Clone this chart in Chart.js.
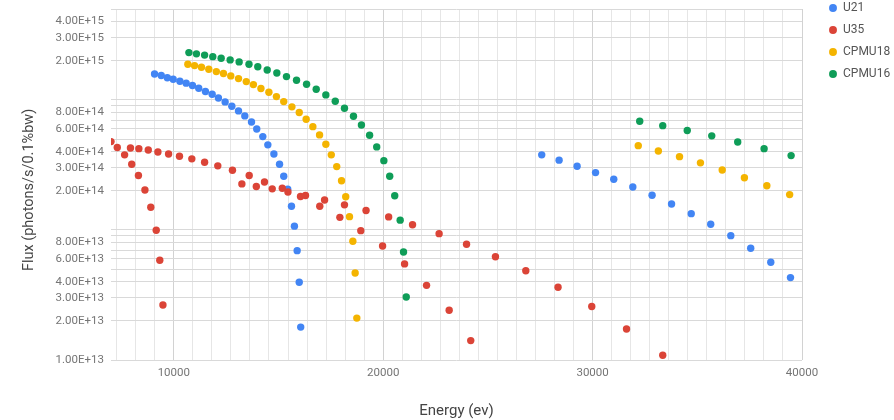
<!DOCTYPE html>
<html>
<head>
<meta charset="utf-8">
<script src="https://cdn.jsdelivr.net/npm/chart.js@4.4.1/dist/chart.umd.min.js"></script>
<style>
  body { margin: 0; background: #fff; }
  #wrap { width: 894px; height: 420px; }
</style>
</head>
<body>
<div id="wrap"><canvas id="chart"></canvas></div>
<script>
const seriesNames = ['U21', 'U35', 'CPMU18', 'CPMU16'];
const seriesColors = ['#4285f4', '#db4437', '#f4b400', '#0f9d58'];

const u21Energy = [9080, 9400, 9690, 9970, 10290, 10590, 10890, 11190, 11510, 11830,
  12130, 12450, 12770, 13090, 13390, 13710, 13960, 14250, 14490, 14780,
  15050, 15250, 15440, 15620, 15760, 15890, 15990, 16060,
  27570, 28400, 29260, 30140, 31010, 31920, 32840, 33770, 34710, 35640, 36600, 37550, 38510, 39450];
const u21Flux = [1.58e15, 1.54e15, 1.48e15, 1.44e15, 1.39e15, 1.345e15, 1.29e15, 1.23e15, 1.16e15, 1.105e15,
  1.035e15, 9.65e14, 8.94e14, 8.23e14, 7.53e14, 6.77e14, 5.98e14, 5.22e14, 4.51e14, 3.84e14,
  3.2e14, 2.59e14, 2.06e14, 1.52e14, 1.07e14, 6.93e13, 3.96e13, 1.79e13,
  3.78e14, 3.44e14, 3.09e14, 2.76e14, 2.455e14, 2.14e14, 1.85e14, 1.585e14, 1.335e14, 1.106e14, 9.04e13, 7.23e13, 5.64e13, 4.3e13];

const u35Energy = [7000, 7300, 7650, 7930, 7990, 8330, 8310, 8620, 8780, 8900,
  9160, 9240, 9330, 9480, 9750, 10270, 10860, 11470, 12100, 12800,
  13250, 13600, 13940, 14330, 14700, 15180, 15450, 16050, 16290, 16970,
  17200, 17930, 18150, 18930, 19180, 19970, 20260, 21020, 21400, 22070,
  22670, 23150, 23980, 24180, 25360, 26810, 28350, 29960, 31620, 33350];
const u35Flux = [4.78e14, 4.3e14, 3.78e14, 4.27e14, 3.2e14, 4.22e14, 2.62e14, 2.03e14, 4.12e14, 1.495e14,
  9.95e13, 3.98e14, 5.85e13, 2.65e13, 3.84e14, 3.69e14, 3.52e14, 3.32e14, 3.11e14, 2.88e14,
  2.26e14, 2.62e14, 2.16e14, 2.34e14, 2.07e14, 2.09e14, 1.96e14, 1.81e14, 1.84e14, 1.52e14,
  1.7e14, 1.25e14, 1.56e14, 9.88e13, 1.41e14, 7.53e13, 1.26e14, 5.48e13, 1.096e14, 3.75e13,
  9.37e13, 2.41e13, 7.76e13, 1.41e13, 6.23e13, 4.86e13, 3.63e13, 2.58e13, 1.73e13, 1.087e13];

const cpmu18Energy = [10670, 10990, 11320, 11670, 12030, 12370, 12720, 13090, 13460, 13800,
  14160, 14540, 14900, 15250, 15640, 15990, 16320, 16640, 16960, 17260,
  17520, 17780, 18010, 18210, 18390, 18550, 18660, 18740,
  32180, 33140, 34150, 35150, 36190, 37250, 38320, 39410];
const cpmu18Flux = [1.88e15, 1.835e15, 1.784e15, 1.722e15, 1.651e15, 1.594e15, 1.53e15, 1.458e15, 1.383e15, 1.311e15,
  1.224e15, 1.146e15, 1.06e15, 9.7e14, 8.84e14, 7.99e14, 7.1e14, 6.23e14, 5.38e14, 4.56e14,
  3.78e14, 3.07e14, 2.39e14, 1.8e14, 1.266e14, 8.19e13, 4.67e13, 2.1e13,
  4.45e14, 4.05e14, 3.66e14, 3.28e14, 2.89e14, 2.52e14, 2.19e14, 1.87e14];

const cpmu16Energy = [10720, 11080, 11470, 11860, 12260, 12690, 13120, 13590, 14010, 14460,
  14920, 15380, 15860, 16340, 16800, 17260, 17710, 18150, 18580, 18960,
  19350, 19690, 20030, 20310, 20550, 20810, 20970, 21100,
  32250, 33350, 34520, 35690, 36930, 38190, 39480];
const cpmu16Flux = [2.31e15, 2.26e15, 2.21e15, 2.15e15, 2.09e15, 2.03e15, 1.96e15, 1.88e15, 1.8e15, 1.7e15,
  1.61e15, 1.51e15, 1.418e15, 1.32e15, 1.209e15, 1.093e15, 9.77e14, 8.63e14, 7.49e14, 6.42e14,
  5.35e14, 4.35e14, 3.41e14, 2.59e14, 1.83e14, 1.19e14, 6.77e13, 3.05e13,
  6.86e14, 6.34e14, 5.81e14, 5.29e14, 4.75e14, 4.22e14, 3.73e14];

const xTickLabels = [10000, 20000, 30000, 40000];
const yTickLabels = [1e13, 2e13, 3e13, 4e13, 6e13, 8e13, 2e14, 3e14, 4e14, 6e14, 8e14, 2e15, 3e15, 4e15];

// gridlines: x every 10000/11 around the labelled ticks, y at 1..9 x 10^n
const xGrid = [];
for (let k = -3; k <= 33; k++) xGrid.push((110000 + k * 10000) / 11);
const yGrid = [];
for (let e = 13; e <= 15; e++) {
  for (let m = 1; m <= 9; m++) {
    if (m * 10 ** e <= 5e15) yGrid.push(m * 10 ** e);
  }
}
const isMajorX = v => xTickLabels.includes(Math.round(v)) && Math.abs(v - Math.round(v)) < 1e-6;

const energies = [u21Energy, u35Energy, cpmu18Energy, cpmu16Energy];
const fluxes = [u21Flux, u35Flux, cpmu18Flux, cpmu16Flux];

Chart.defaults.font.family = "Roboto, 'Noto Sans', sans-serif";
Chart.defaults.animation = false;

// move legend a bit right/up, like the original
const legendNudge = {
  id: 'legendNudge',
  afterLayout(chart) {
    const lg = chart.legend;
    lg.left += 17; lg.right += 17;
    lg.top -= 8; lg.bottom -= 8;
  }
};

const data = {
  datasets: seriesNames.map((name, i) => ({
    label: name,
    data: energies[i].map((x, j) => ({x: x, y: fluxes[i][j]})),
    backgroundColor: seriesColors[i],
    borderColor: seriesColors[i],
    borderWidth: 0,
    pointRadius: 3.7,
    pointHoverRadius: 3.7,
    order: seriesNames.length - i
  }))
};

const config = {
  type: 'scatter',
  data: data,
  plugins: [legendNudge],
  options: {
    responsive: true,
    maintainAspectRatio: false,
    events: [],
    layout: { padding: 0 },
    plugins: {
      legend: {
        position: 'right',
        align: 'start',
        labels: {
          usePointStyle: true,
          boxWidth: 8,
          boxHeight: 5.6,
          padding: 10,
          color: '#555',
          font: { size: 12 },
          sort: (a, b) => a.datasetIndex - b.datasetIndex
        }
      },
      tooltip: { enabled: false }
    },
    scales: {
      x: {
        type: 'linear',
        min: 7000,
        max: 40000,
        afterBuildTicks: s => { s.ticks = xGrid.map(v => ({value: v})); },
        afterFit: s => { s.height = 60; s.paddingRight = 92; s.paddingLeft = 0; },
        grid: {
          drawTicks: false,
          color: c => isMajorX(c.tick.value) ? '#d2d2d2' : '#e6e6e6'
        },
        border: { display: false },
        ticks: {
          autoSkip: false,
          maxRotation: 0,
          padding: 6,
          color: '#757575',
          font: { size: 11.5 },
          callback: v => isMajorX(v) ? String(Math.round(v)) : ''
        },
        title: {
          display: true,
          text: 'Energy (ev)',
          color: '#444',
          font: { size: 15 },
          padding: { top: 0, bottom: 0 }
        }
      },
      y: {
        type: 'logarithmic',
        min: 1e13,
        max: 5e15,
        afterBuildTicks: s => { s.ticks = yGrid.map(v => ({value: v})); },
        afterFit: s => { s.width = 111; s.paddingTop = 9; s.paddingBottom = 0; },
        grid: { drawTicks: false, color: '#d9d9d9' },
        border: { display: false },
        ticks: {
          autoSkip: false,
          padding: 7,
          color: '#757575',
          font: { size: 11.5 },
          callback: v => yTickLabels.includes(v) ? v.toExponential(2).toUpperCase() : ''
        },
        title: {
          display: true,
          text: 'Flux (photons/s/0.1%bw)   ',
          color: '#444',
          font: { size: 14.5 },
          padding: { top: 21, bottom: 0 }
        }
      }
    }
  }
};

var chart = new Chart(document.getElementById('chart'), config);
</script>
</body>
</html>
